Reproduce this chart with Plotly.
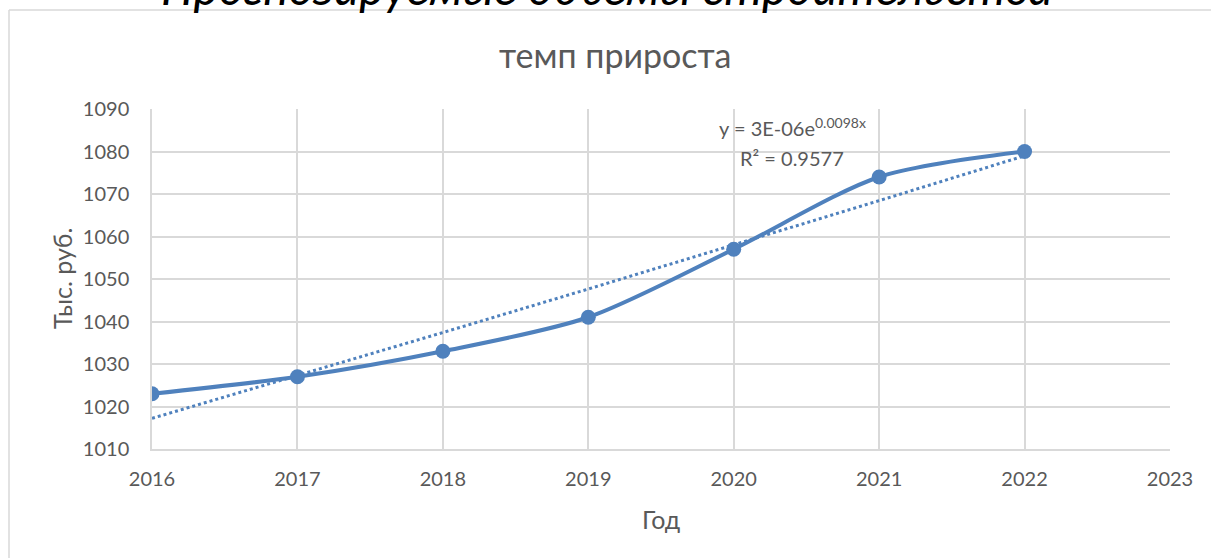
import numpy as np
import plotly.graph_objects as go

years = [2016, 2017, 2018, 2019, 2020, 2021, 2022]
values = [1023, 1027, 1033, 1041, 1057, 1074, 1080]
y_ticks = [1010, 1020, 1030, 1040, 1050, 1060, 1070, 1080, 1090]
x_ticks = [2016, 2017, 2018, 2019, 2020, 2021, 2022, 2023]

title_text = "темп прироста"
top_text = "Прогнозируемые объемы строительства"
eq_line1 = "y = 3E-06e<sup>0.0098x</sup>"
eq_line2 = "R² = 0.9577"
x_title = "Год"
y_title = "Тыс. руб."

# exponential trendline fit (log-linear regression, as Excel does)
xa = np.array(years, dtype=float)
ya = np.array(values, dtype=float)
b, lna = np.polyfit(xa, np.log(ya), 1)
trend = np.exp(lna + b * xa)

BLUE = "#4f81bd"
GRID = "#d9d9d9"
TXT = "#595959"
FONT = "Lato, 'Noto Sans', sans-serif"

W, H = 1211, 558
L, R, T, B = 152, 1170, 109, 449

def px(x):
    return (x - L) / (R - L)

def py(y):
    return (B - y) / (B - T)

fig = go.Figure()
fig.add_trace(go.Scatter(
    x=years, y=trend, mode="lines",
    line=dict(color=BLUE, width=3, dash="dot"),
    hoverinfo="skip", showlegend=False,
))
fig.add_trace(go.Scatter(
    x=years, y=values, mode="lines+markers",
    line=dict(color=BLUE, width=4, shape="spline", smoothing=0.8),
    marker=dict(color=BLUE, size=15),
    showlegend=False,
))

fig.update_layout(
    width=W, height=H,
    margin=dict(l=L, r=W - R, t=T, b=H - B, pad=0),
    paper_bgcolor="white", plot_bgcolor="white",
    font=dict(family=FONT, color=TXT, size=16),
    xaxis=dict(
        range=[2016, 2023], tickvals=x_ticks, ticktext=[str(v) for v in x_ticks],
        showgrid=True, gridcolor=GRID, gridwidth=1.5,
        showline=True, linecolor=GRID, linewidth=1.5,
        zeroline=False, ticks="outside", ticklen=11, tickcolor="rgba(0,0,0,0)",
        tickfont=dict(size=20, color=TXT, family=FONT),
        automargin=False,
    ),
    yaxis=dict(
        range=[1010, 1090], tickvals=y_ticks,
        showgrid=True, gridcolor=GRID, gridwidth=1.5,
        showline=True, linecolor=GRID, linewidth=1.5,
        zeroline=False, ticks="outside", ticklen=17, tickcolor="rgba(0,0,0,0)",
        tickfont=dict(size=20, color=TXT, family=FONT),
        automargin=False,
    ),
    shapes=[
        dict(type="line", xref="paper", yref="paper",
             x0=px(9), x1=px(1211), y0=py(10), y1=py(10),
             line=dict(color=GRID, width=1.5)),
        dict(type="line", xref="paper", yref="paper",
             x0=px(9), x1=px(9), y0=py(10), y1=py(558),
             line=dict(color=GRID, width=1.5)),
    ],
    annotations=[
        dict(text=title_text, xref="paper", yref="paper",
             x=px(615), y=py(55), xanchor="center", yanchor="middle",
             showarrow=False, font=dict(size=34, color=TXT, family=FONT)),
        dict(text=eq_line1, xref="paper", yref="paper",
             x=px(792), y=py(127), xanchor="center", yanchor="middle",
             showarrow=False, font=dict(size=20, color=TXT, family=FONT)),
        dict(text=eq_line2, xref="paper", yref="paper",
             x=px(792), y=py(158), xanchor="center", yanchor="middle",
             showarrow=False, font=dict(size=20, color=TXT, family=FONT)),
        dict(text=x_title, xref="paper", yref="paper",
             x=px(661), y=py(519), xanchor="center", yanchor="middle",
             showarrow=False, font=dict(size=25, color=TXT, family=FONT)),
        dict(text=y_title, xref="paper", yref="paper",
             x=px(62), y=py(279), xanchor="center", yanchor="middle",
             textangle=-90, showarrow=False,
             font=dict(size=25, color=TXT, family=FONT)),
        dict(text="<i>" + top_text + "</i>", xref="paper", yref="paper",
             x=px(607), y=py(17), xanchor="center", yanchor="bottom",
             showarrow=False, font=dict(size=48, color="black", family=FONT)),
    ],
)

fig.write_html("out.html", config={"displayModeBar": False},
               post_script="document.body.style.margin='0';")
